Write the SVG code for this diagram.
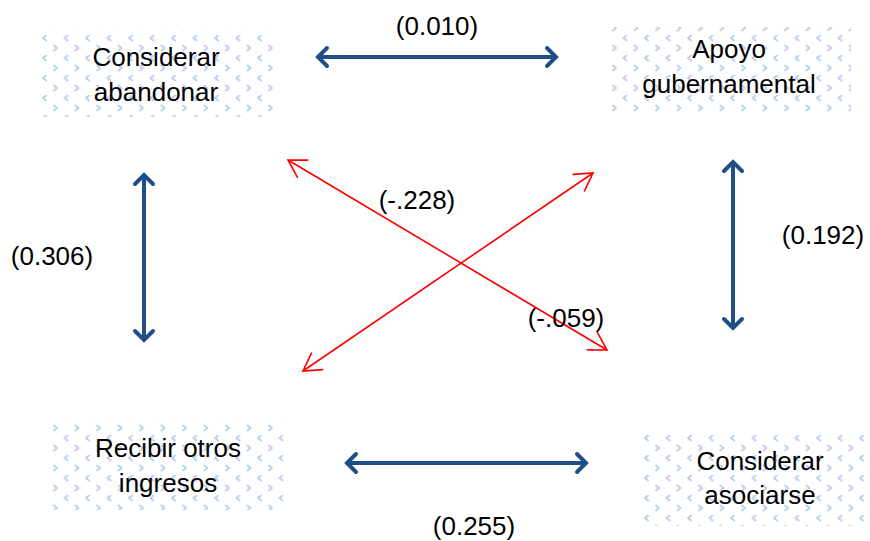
<svg xmlns="http://www.w3.org/2000/svg" width="870" height="541" viewBox="0 0 870 541">
<style>
.lbl{font-family:"Liberation Sans",Arial,sans-serif;font-size:26px;fill:#000;text-anchor:middle}
.blue{stroke:#1f4e89;stroke-width:4;fill:none;marker-start:url(#bh);marker-end:url(#bh)}
.red{stroke:#ff0000;stroke-width:1.6;fill:none;marker-start:url(#rh);marker-end:url(#rh)}
.box{fill:url(#tex)}
</style>
<defs>
<pattern id="tex" width="21.5" height="20" patternUnits="userSpaceOnUse" x="41" y="35">
<path d="M5,0.5 L2,3 L5,5.5" fill="none" stroke="#bfd0ea" stroke-width="2" stroke-linecap="round" stroke-linejoin="round"/>
<path d="M13,10.5 L16,13 L13,15.5" fill="none" stroke="#bfd0ea" stroke-width="2" stroke-linecap="round" stroke-linejoin="round"/>
</pattern>
<marker id="bh" markerUnits="userSpaceOnUse" viewBox="-14 -12 16 24" markerWidth="16" markerHeight="24" refX="0" refY="0" orient="auto-start-reverse" overflow="visible">
<path d="M-9,-9 L0,0 L-9,9" fill="none" stroke="#1f4e89" stroke-width="4" stroke-linecap="round" stroke-linejoin="miter"/>
</marker>
<marker id="rh" markerUnits="userSpaceOnUse" viewBox="-20 -12 22 24" markerWidth="22" markerHeight="24" refX="0" refY="0" orient="auto-start-reverse" overflow="visible">
<path d="M-17,-10 L0,0 L-17,10" fill="none" stroke="#ff0000" stroke-width="1.6" stroke-linecap="round"/>
</marker>
</defs>
<rect width="870" height="541" fill="#fff"/>
<g id="n1"><rect class="box" x="40" y="31" width="233" height="86"/>
<text class="lbl"><tspan x="156" y="66">Considerar</tspan><tspan x="156" y="101">abandonar</tspan></text></g>
<g id="n2"><rect class="box" x="607" y="27" width="244" height="86"/>
<text class="lbl"><tspan x="729" y="58">Apoyo</tspan><tspan x="729" y="93">gubernamental</tspan></text></g>
<g id="n3"><rect class="box" x="48" y="421" width="238" height="89"/>
<text class="lbl"><tspan x="168" y="457">Recibir otros</tspan><tspan x="168" y="492">ingresos</tspan></text></g>
<g id="n4"><rect class="box" x="642" y="432" width="228" height="94"/>
<text class="lbl"><tspan x="760" y="470">Considerar</tspan><tspan x="760" y="504">asociarse</tspan></text></g>
<g id="connectors">
<line class="blue" x1="318" y1="57" x2="556" y2="57"/>
<line class="blue" x1="144" y1="175" x2="144" y2="340"/>
<line class="blue" x1="733" y1="162" x2="733" y2="328"/>
<line class="blue" x1="347" y1="463" x2="586" y2="463"/>
<line class="red" x1="288" y1="160" x2="607" y2="350"/>
<line class="red" x1="303" y1="371" x2="593" y2="173"/>
<text class="lbl" x="437" y="35">(0.010)</text>
<text class="lbl" x="52" y="265">(0.306)</text>
<text class="lbl" x="823" y="244">(0.192)</text>
<text class="lbl" x="474" y="535">(0.255)</text>
<text class="lbl" x="417" y="209">(-.228)</text>
<text class="lbl" x="566" y="327">(-.059)</text>
</g>
</svg>
